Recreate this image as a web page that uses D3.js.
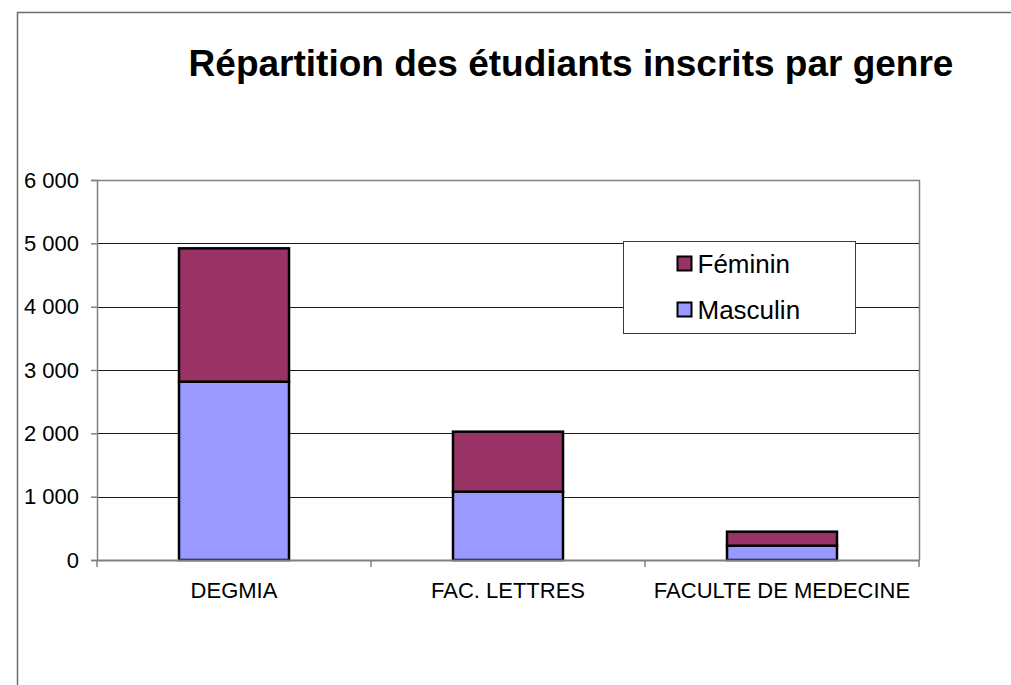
<!DOCTYPE html>
<html>
<head>
<meta charset="utf-8">
<script src="https://cdn.jsdelivr.net/npm/d3@7"></script>
<style>
  body { margin: 0; background: #fff; }
  svg { display: block; font-family: Arial, "Liberation Sans", sans-serif; }
</style>
</head>
<body>
<svg id="chart" width="1011" height="685"></svg>
<script>
/*** DATA ***/
var categories = ['DEGMIA', 'FAC. LETTRES', 'FACULTE DE MEDECINE'];
var masculin = [2815, 1079, 226];
var feminin = [2106, 947, 221];
var seriesNames = ['Masculin', 'Féminin'];
var yTicks = [0, 1000, 2000, 3000, 4000, 5000, 6000];

var colors = { 'Masculin': '#9999FF', 'Féminin': '#993366' };

var rows = categories.map(function(c, i) {
  return { cat: c, 'Masculin': masculin[i], 'Féminin': feminin[i] };
});

var svg = d3.select('#chart');

//outer frame
svg.append('path')
  .attr('d', 'M17.5,685 V12.5 H1011')
  .attr('fill', 'none')
  .attr('stroke', '#6e6e6e')
  .attr('stroke-width', 1.5);

//title
svg.append('text')
  .attr('x', 571)
  .attr('y', 76)
  .attr('text-anchor', 'middle')
  .attr('font-size', 37)
  .attr('font-weight', 'bold')
  .text('Répartition des étudiants inscrits par genre');

/*** SCALES ***/
var plotLeft = 97, plotRight = 919, plotTop = 180, plotBottom = 560;
var pad = 1 - 110 / 274;

var x = d3.scaleBand()
  .domain(categories)
  .range([plotLeft, plotRight])
  .paddingInner(pad)
  .paddingOuter(pad / 2);

var y = d3.scaleLinear()
  .domain([0, 6000])
  .range([plotBottom, plotTop]);

//gridlines
svg.append('g')
  .selectAll('line')
  .data(yTicks.filter(function(d) { return d > 0 && d < 6000; }))
  .enter().append('line')
  .attr('x1', plotLeft).attr('x2', plotRight)
  .attr('y1', function(d) { return Math.round(y(d)) + 0.5; })
  .attr('y2', function(d) { return Math.round(y(d)) + 0.5; })
  .attr('stroke', '#1a1a1a')
  .attr('stroke-width', 1);

//plot border (top/right)
svg.append('path')
  .attr('d', 'M' + plotLeft + ',' + (plotTop + 0.5) + ' H' + (plotRight + 0.5) + ' V' + plotBottom)
  .attr('fill', 'none')
  .attr('stroke', '#808080')
  .attr('stroke-width', 1.5);

/*** BARS ***/
var stack = d3.stack().keys(seriesNames);
var layers = stack(rows);

svg.append('g')
  .selectAll('g')
  .data(layers)
  .enter().append('g')
  .attr('fill', function(d) { return colors[d.key]; })
  .selectAll('rect')
  .data(function(d) { return d; })
  .enter().append('rect')
  .attr('x', function(d) { return x(d.data.cat); })
  .attr('y', function(d) { return y(d[1]); })
  .attr('width', x.bandwidth())
  .attr('height', function(d) { return y(d[0]) - y(d[1]); })
  .attr('stroke', '#000')
  .attr('stroke-width', 2.5);

/*** AXES ***/
var yAxis = d3.axisLeft(y)
  .tickValues(yTicks)
  .tickSize(6)
  .tickPadding(12)
  .tickFormat(function(d) { return d3.format(',')(d).replace(/,/g, ' '); });

var gy = svg.append('g')
  .attr('transform', 'translate(' + plotLeft + ',0)')
  .call(yAxis);
gy.select('.domain').attr('stroke', '#808080').attr('stroke-width', 1.5);
gy.selectAll('.tick line').attr('stroke', '#808080').attr('stroke-width', 1.5);
gy.selectAll('.tick text')
  .attr('font-size', 22)
  .attr('font-family', 'Arial, "Liberation Sans", sans-serif')
  .attr('fill', '#000');

var xAxis = d3.axisBottom(x)
  .tickSize(0)
  .tickPadding(22);

var gx = svg.append('g')
  .attr('transform', 'translate(0,' + plotBottom + ')')
  .call(xAxis);
gx.select('.domain').attr('stroke', '#808080').attr('stroke-width', 2);
gx.selectAll('.tick text')
  .attr('font-size', 22)
  .attr('font-family', 'Arial, "Liberation Sans", sans-serif')
  .attr('fill', '#000');

//category separators
var bounds = d3.range(categories.length + 1).map(function(i) { return plotLeft + i * x.step(); });
gx.selectAll('.sep')
  .data(bounds)
  .enter().append('line')
  .attr('class', 'sep')
  .attr('x1', function(d) { return d; }).attr('x2', function(d) { return d; })
  .attr('y1', 0).attr('y2', 7)
  .attr('stroke', '#808080')
  .attr('stroke-width', 1.5);

/*** LEGEND ***/
var legend = svg.append('g').attr('transform', 'translate(623.5,241.5)');
legend.append('rect')
  .attr('width', 232)
  .attr('height', 92)
  .attr('fill', '#fff')
  .attr('stroke', '#3a3a3a')
  .attr('stroke-width', 1);

var legendItems = ['Féminin', 'Masculin'];
var item = legend.selectAll('.item')
  .data(legendItems)
  .enter().append('g')
  .attr('class', 'item')
  .attr('transform', function(d, i) { return 'translate(54,' + (15 + i * 46) + ')'; });

item.append('rect')
  .attr('width', 14)
  .attr('height', 14)
  .attr('fill', function(d) { return colors[d]; })
  .attr('stroke', '#000')
  .attr('stroke-width', 2);

item.append('text')
  .attr('x', 20)
  .attr('y', 16)
  .attr('font-size', 26)
  .text(function(d) { return d; });
</script>
</body>
</html>
